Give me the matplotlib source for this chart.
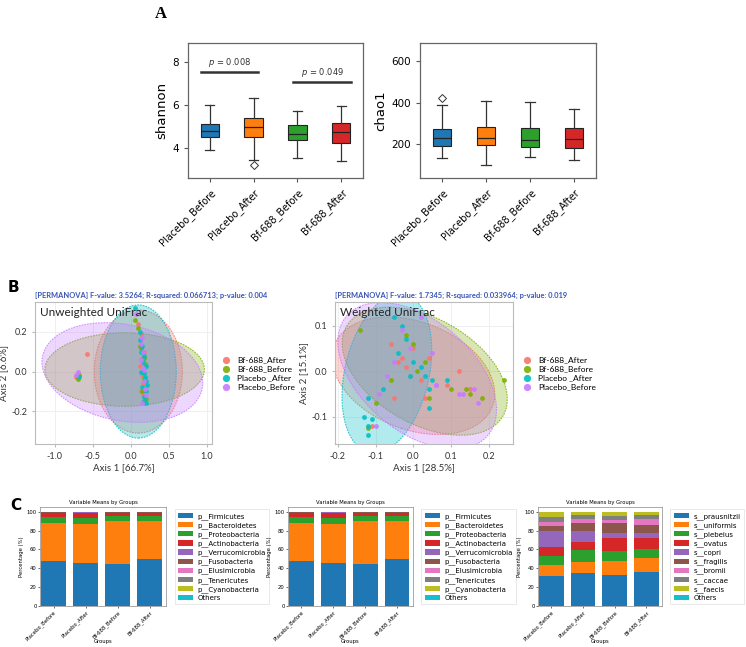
import matplotlib.pyplot as plt
from matplotlib.patches import Ellipse
import numpy as np

plt.rcParams['axes.unicode_minus'] = False

W, H = 746, 647

# ---------------- data ----------------
groups = ['Placebo_Before', 'Placebo_After', 'Bf-688_Before', 'Bf-688_After']
box_colors = ['#1f77b4', '#ff7f0e', '#2ca02c', '#d62728']

# alpha diversity (box summaries)
shannon_low = [3.90, 3.44, 3.52, 3.40]
shannon_q1 = [4.50, 4.53, 4.36, 4.22]
shannon_med = [4.80, 4.96, 4.64, 4.76]
shannon_q3 = [5.12, 5.38, 5.08, 5.15]
shannon_high = [6.00, 6.34, 5.74, 5.95]
shannon_fliers = [[], [3.2], [], []]

chao_low = [131, 99, 136, 123]
chao_q1 = [190, 195, 184, 182]
chao_med = [227, 230, 219, 224]
chao_q3 = [272, 282, 276, 279]
chao_high = [386, 407, 402, 369]
chao_fliers = [[423], [], [], []]

# beta diversity
pcoa_groups = ['Bf-688_After', 'Bf-688_Before', 'Placebo _After', 'Placebo_Before']
pcoa_colors = ['#F8766D', '#7CAE00', '#00BFC4', '#C77CFF']

unw_x = [
    [0.10, 0.13, 0.14, 0.15, 0.12, 0.15, 0.16, 0.14, 0.17, -0.57, -0.72, 0.18, 0.16],
    [0.05, 0.10, 0.14, 0.17, 0.16, 0.18, 0.15, 0.20, -0.70, -0.68, 0.12, 0.19],
    [0.05, 0.12, 0.15, 0.18, 0.20, 0.17, 0.20, 0.15, 0.20, 0.18, 0.20, 0.13, 0.16, 0.19, 0.14, 0.21, -0.68, 0.17, 0.12],
    [0.07, 0.15, 0.16, 0.13, 0.18, 0.17, 0.20, 0.15, -0.70, -0.72, 0.14, 0.19, 0.16],
]
unw_y = [
    [0.24, 0.19, 0.12, 0.07, 0.03, -0.02, -0.06, -0.10, -0.15, 0.09, -0.03, 0.10, -0.12],
    [0.26, 0.22, 0.12, 0.07, 0.00, -0.04, -0.10, -0.14, -0.04, -0.02, 0.13, 0.04],
    [0.32, 0.20, 0.13, 0.08, 0.03, -0.01, -0.05, -0.08, -0.10, -0.13, -0.16, 0.00, 0.05, -0.03, 0.10, -0.07, -0.03, -0.15, 0.16],
    [0.29, 0.17, 0.10, 0.06, 0.01, -0.05, -0.12, -0.16, 0.00, -0.02, 0.14, -0.09, 0.02],
]
# ellipses: centre x, centre y, width, height, angle
unw_ell = [
    (0.10, 0.00, 1.16, 0.62, 0),
    (-0.08, 0.01, 2.10, 0.37, 0),
    (0.10, 0.00, 1.00, 0.67, 0),
    (-0.11, -0.005, 2.12, 0.49, -3),
]

w_x = [
    [-0.03, -0.02, -0.04, 0.00, 0.02, -0.06, 0.09, 0.12, 0.15, -0.01, 0.04, -0.11, -0.05, 0.03],
    [-0.14, -0.02, 0.00, 0.03, 0.10, 0.14, 0.18, 0.24, 0.04, -0.06, -0.10, 0.15, 0.01, -0.12],
    [-0.05, -0.03, -0.02, -0.04, 0.02, 0.03, -0.01, 0.05, 0.04, -0.08, 0.04, 0.09, -0.12, -0.13, -0.12, -0.12, -0.11, 0.00],
    [0.02, -0.03, -0.01, -0.05, 0.06, 0.12, 0.13, 0.16, 0.17, -0.07, -0.09, 0.05, -0.10, 0.06],
]
w_y = [
    [0.03, 0.01, 0.02, 0.05, -0.02, 0.06, -0.03, 0.00, -0.04, -0.01, 0.03, -0.12, -0.06, -0.06],
    [0.09, 0.08, 0.06, 0.02, -0.04, -0.04, -0.06, -0.02, -0.06, -0.02, -0.07, -0.05, 0.00, -0.125],
    [0.12, 0.10, 0.07, 0.04, 0.01, -0.01, -0.01, -0.02, -0.04, -0.04, -0.08, -0.02, -0.06, -0.10, -0.12, -0.14, -0.105, 0.02],
    [0.12, 0.09, 0.05, 0.02, -0.03, -0.05, -0.05, -0.04, -0.07, -0.01, -0.05, 0.04, -0.12, -0.03],
]
w_ell = [
    (0.00, -0.01, 0.44, 0.24, -15),
    (0.03, 0.00, 0.46, 0.24, -22),
    (-0.07, -0.005, 0.22, 0.36, -18),
    (0.01, -0.01, 0.46, 0.26, -30),
]

# taxonomic composition (%)
phyla = ['p__Firmicutes', 'p__Bacteroidetes', 'p__Proteobacteria', 'p__Actinobacteria',
         'p__Verrucomicrobia', 'p__Fusobacteria', 'p__Elusimicrobia', 'p__Tenericutes',
         'p__Cyanobacteria', 'Others']
phylum_pct = [
    [47.9, 45.4, 44.7, 50.0],
    [40.4, 41.5, 45.4, 40.1],
    [5.7, 6.0, 4.9, 4.9],
    [4.6, 5.7, 3.6, 3.6],
    [0.3, 0.6, 0.4, 0.4],
    [0.3, 0.2, 0.3, 0.3],
    [0.1, 0.1, 0.1, 0.1],
    [0.3, 0.2, 0.3, 0.3],
    [0.2, 0.1, 0.1, 0.1],
    [0.2, 0.2, 0.2, 0.2],
]
species = ['s__prausnitzii', 's__uniformis', 's__plebeius', 's__ovatus', 's__copri',
           's__fragilis', 's__bromii', 's__caccae', 's__faecis', 'Others']
species_pct = [
    [32.3, 35.5, 33.0, 36.5],
    [11.3, 11.3, 14.5, 14.9],
    [9.9, 12.4, 11.0, 9.2],
    [8.9, 8.2, 13.1, 11.0],
    [16.7, 11.7, 5.4, 5.4],
    [5.3, 8.8, 10.9, 8.8],
    [5.0, 4.7, 2.9, 6.4],
    [4.6, 3.9, 4.2, 3.9],
    [5.3, 3.1, 4.6, 3.5],
    [0.7, 0.4, 0.4, 0.4],
]


def ax_px(fig, l, t, r, b):
    return fig.add_axes([l / W, 1 - b / H, (r - l) / W, (b - t) / H])


fig = plt.figure(figsize=(W / 100, H / 100), dpi=100)

# ---------------- A ----------------
def box_panel(ax, low, q1, med, q3, high, fliers, ylabel, ylim, yticks):
    stats = []
    for i in range(4):
        stats.append(dict(whislo=low[i], q1=q1[i], med=med[i], q3=q3[i],
                          whishi=high[i], fliers=fliers[i]))
    bp = ax.bxp(stats, positions=[1, 2, 3, 4], widths=0.42, patch_artist=True,
                boxprops=dict(edgecolor='#222', linewidth=0.8),
                medianprops=dict(color='#222', linewidth=0.9),
                whiskerprops=dict(color='#333', linewidth=0.9),
                capprops=dict(color='#333', linewidth=0.9),
                flierprops=dict(marker='D', markerfacecolor='none',
                                markeredgecolor='#333', markersize=4.5, markeredgewidth=0.7))
    for patch, c in zip(bp['boxes'], box_colors):
        patch.set_facecolor(c)
    ax.set_xlim(0.5, 4.5)
    ax.set_ylim(*ylim)
    ax.set_yticks(yticks)
    ax.set_xticks([1, 2, 3, 4])
    ax.set_xticklabels(groups, rotation=45, ha='right', rotation_mode='anchor', fontsize=7)
    ax.tick_params(axis='y', labelsize=7.5, length=3, color='#555')
    ax.tick_params(axis='x', length=3, color='#555')
    ax.set_ylabel(ylabel, fontsize=9.5, labelpad=3)
    for s in ax.spines.values():
        s.set_color('#666')
        s.set_linewidth(0.9)


ax1 = ax_px(fig, 188, 43, 363, 178)
box_panel(ax1, shannon_low, shannon_q1, shannon_med, shannon_q3, shannon_high,
          shannon_fliers, 'shannon', (2.6, 8.9), [4, 6, 8])
ax1.plot([0.8, 2.09], [7.55, 7.55], color='#333', lw=1.8)
ax1.text(1.45, 7.68, '$p$ = 0.008', ha='center', va='bottom', fontsize=6, color='#333')
ax1.plot([2.9, 4.23], [7.08, 7.08], color='#333', lw=1.8)
ax1.text(3.57, 7.21, '$p$ = 0.049', ha='center', va='bottom', fontsize=6, color='#333')

ax2 = ax_px(fig, 420, 43, 596, 178)
box_panel(ax2, chao_low, chao_q1, chao_med, chao_q3, chao_high,
          chao_fliers, 'chao1', (36, 687), [200, 400, 600])

fig.text(155 / W, 1 - 18 / H, 'A', fontsize=12, fontweight='bold', family='Liberation Serif')

# ---------------- B ----------------
fam = ['Lato', 'DejaVu Sans']


def pcoa_panel(ax, xs, ys, ells, title, label, xl, yl, xlim, ylim, xticks, yticks):
    for (cx, cy, w, h, a), c in zip(ells, pcoa_colors):
        ax.add_patch(Ellipse((cx, cy), w, h, angle=a, facecolor=c, alpha=0.3,
                             edgecolor='none'))
        ax.add_patch(Ellipse((cx, cy), w, h, angle=a, facecolor='none', edgecolor=c,
                             linestyle=(0, (1.5, 1)), linewidth=0.8, alpha=0.8))
    for x, y, c, g in zip(xs, ys, pcoa_colors, pcoa_groups):
        ax.scatter(x, y, s=12, color=c, alpha=0.9, linewidths=0, label=g, zorder=3)
    ax.set_xlim(*xlim)
    ax.set_ylim(*ylim)
    ax.set_xticks(xticks)
    ax.set_yticks(yticks)
    ax.set_xticklabels([f'{v:.1f}' for v in xticks], family=fam)
    ax.set_yticklabels([f'{v:.1f}' for v in yticks], family=fam)
    ax.tick_params(labelsize=6.5, length=2, color='#bbb', labelcolor='#333')
    ax.grid(True, color='#ececec', linewidth=0.6)
    ax.set_axisbelow(True)
    for s in ax.spines.values():
        s.set_color('#bbb')
        s.set_linewidth(0.8)
    ax.set_xlabel(xl, fontsize=7, family=fam, color='#333', labelpad=2)
    ax.set_ylabel(yl, fontsize=7, family=fam, color='#333', labelpad=2)
    ax.text(0.03, 0.965, label, transform=ax.transAxes, ha='left', va='top',
            fontsize=8.5, family=fam, color='#222')
    ax.set_title(title, fontsize=5.4, fontweight='bold', color='#3a55b4', family=fam,
                 loc='left', pad=3)
    ax.legend(loc='center left', bbox_to_anchor=(0.99, 0.5), frameon=False,
              prop=dict(family=fam, size=6), handletextpad=0.3,
              labelspacing=0.25, markerscale=1.5)


ax3 = ax_px(fig, 35, 302, 212, 444)
pcoa_panel(ax3, unw_x, unw_y, unw_ell,
           '[PERMANOVA] F-value: 3.5264; R-squared: 0.066713; p-value: 0.004',
           'Unweighted UniFrac', 'Axis 1 [66.7%]', 'Axis 2 [6.6%]',
           (-1.26, 1.07), (-0.365, 0.35), [-1.0, -0.5, 0.0, 0.5, 1.0], [-0.2, 0.0, 0.2])

ax4 = ax_px(fig, 335, 302, 513, 444)
pcoa_panel(ax4, w_x, w_y, w_ell,
           '[PERMANOVA] F-value: 1.7345; R-squared: 0.033964; p-value: 0.019',
           'Weighted UniFrac', 'Axis 1 [28.5%]', 'Axis 2 [15.1%]',
           (-0.207, 0.263), (-0.16, 0.152), [-0.2, -0.1, 0.0, 0.1, 0.2], [-0.1, 0.0, 0.1])

fig.text(8 / W, 1 - 292 / H, 'B', fontsize=11, fontweight='bold', family='DejaVu Sans')

# ---------------- C ----------------
bar_colors = plt.get_cmap('tab10').colors


def bar_panel(ax, names, pct):
    x = np.arange(4)
    bottom = np.zeros(4)
    for vals, n, c in zip(pct, names, bar_colors):
        ax.bar(x, vals, 0.78, bottom=bottom, color=c, label=n)
        bottom += np.array(vals)
    ax.set_xlim(-0.42, 3.5)
    ax.set_ylim(0, 105)
    ax.set_xticks(x)
    ax.set_xticklabels(groups, rotation=45, ha='right', rotation_mode='anchor', fontsize=3.6)
    ax.set_yticks([0, 20, 40, 60, 80, 100])
    ax.tick_params(labelsize=3.8, length=1.5, width=0.4, pad=1)
    ax.set_title('Variable Means by Groups', fontsize=3.8, pad=2)
    ax.set_xlabel('Groups', fontsize=3.8)
    ax.xaxis.set_label_coords(0.5, -0.33)
    ax.set_ylabel('Percentage (%)', fontsize=3.8, labelpad=2)
    for s in ax.spines.values():
        s.set_color('#888')
        s.set_linewidth(0.5)
    leg = ax.legend(loc='upper left', bbox_to_anchor=(1.04, 1.01), fontsize=5,
                    labelspacing=0.33, handlelength=2.2, handleheight=0.8,
                    handletextpad=0.6, borderpad=0.5, fancybox=False)
    leg.get_frame().set_linewidth(0.4)
    leg.get_frame().set_edgecolor('#ccc')


ax5 = ax_px(fig, 40, 507, 166, 606)
bar_panel(ax5, phyla, phylum_pct)
ax6 = ax_px(fig, 288, 507, 413, 606)
bar_panel(ax6, phyla, phylum_pct)
ax7 = ax_px(fig, 538, 507, 662, 606)
bar_panel(ax7, species, species_pct)

fig.text(10 / W, 1 - 510 / H, 'C', fontsize=11, fontweight='bold', family='DejaVu Sans')

fig.savefig('out.png', dpi=100)
